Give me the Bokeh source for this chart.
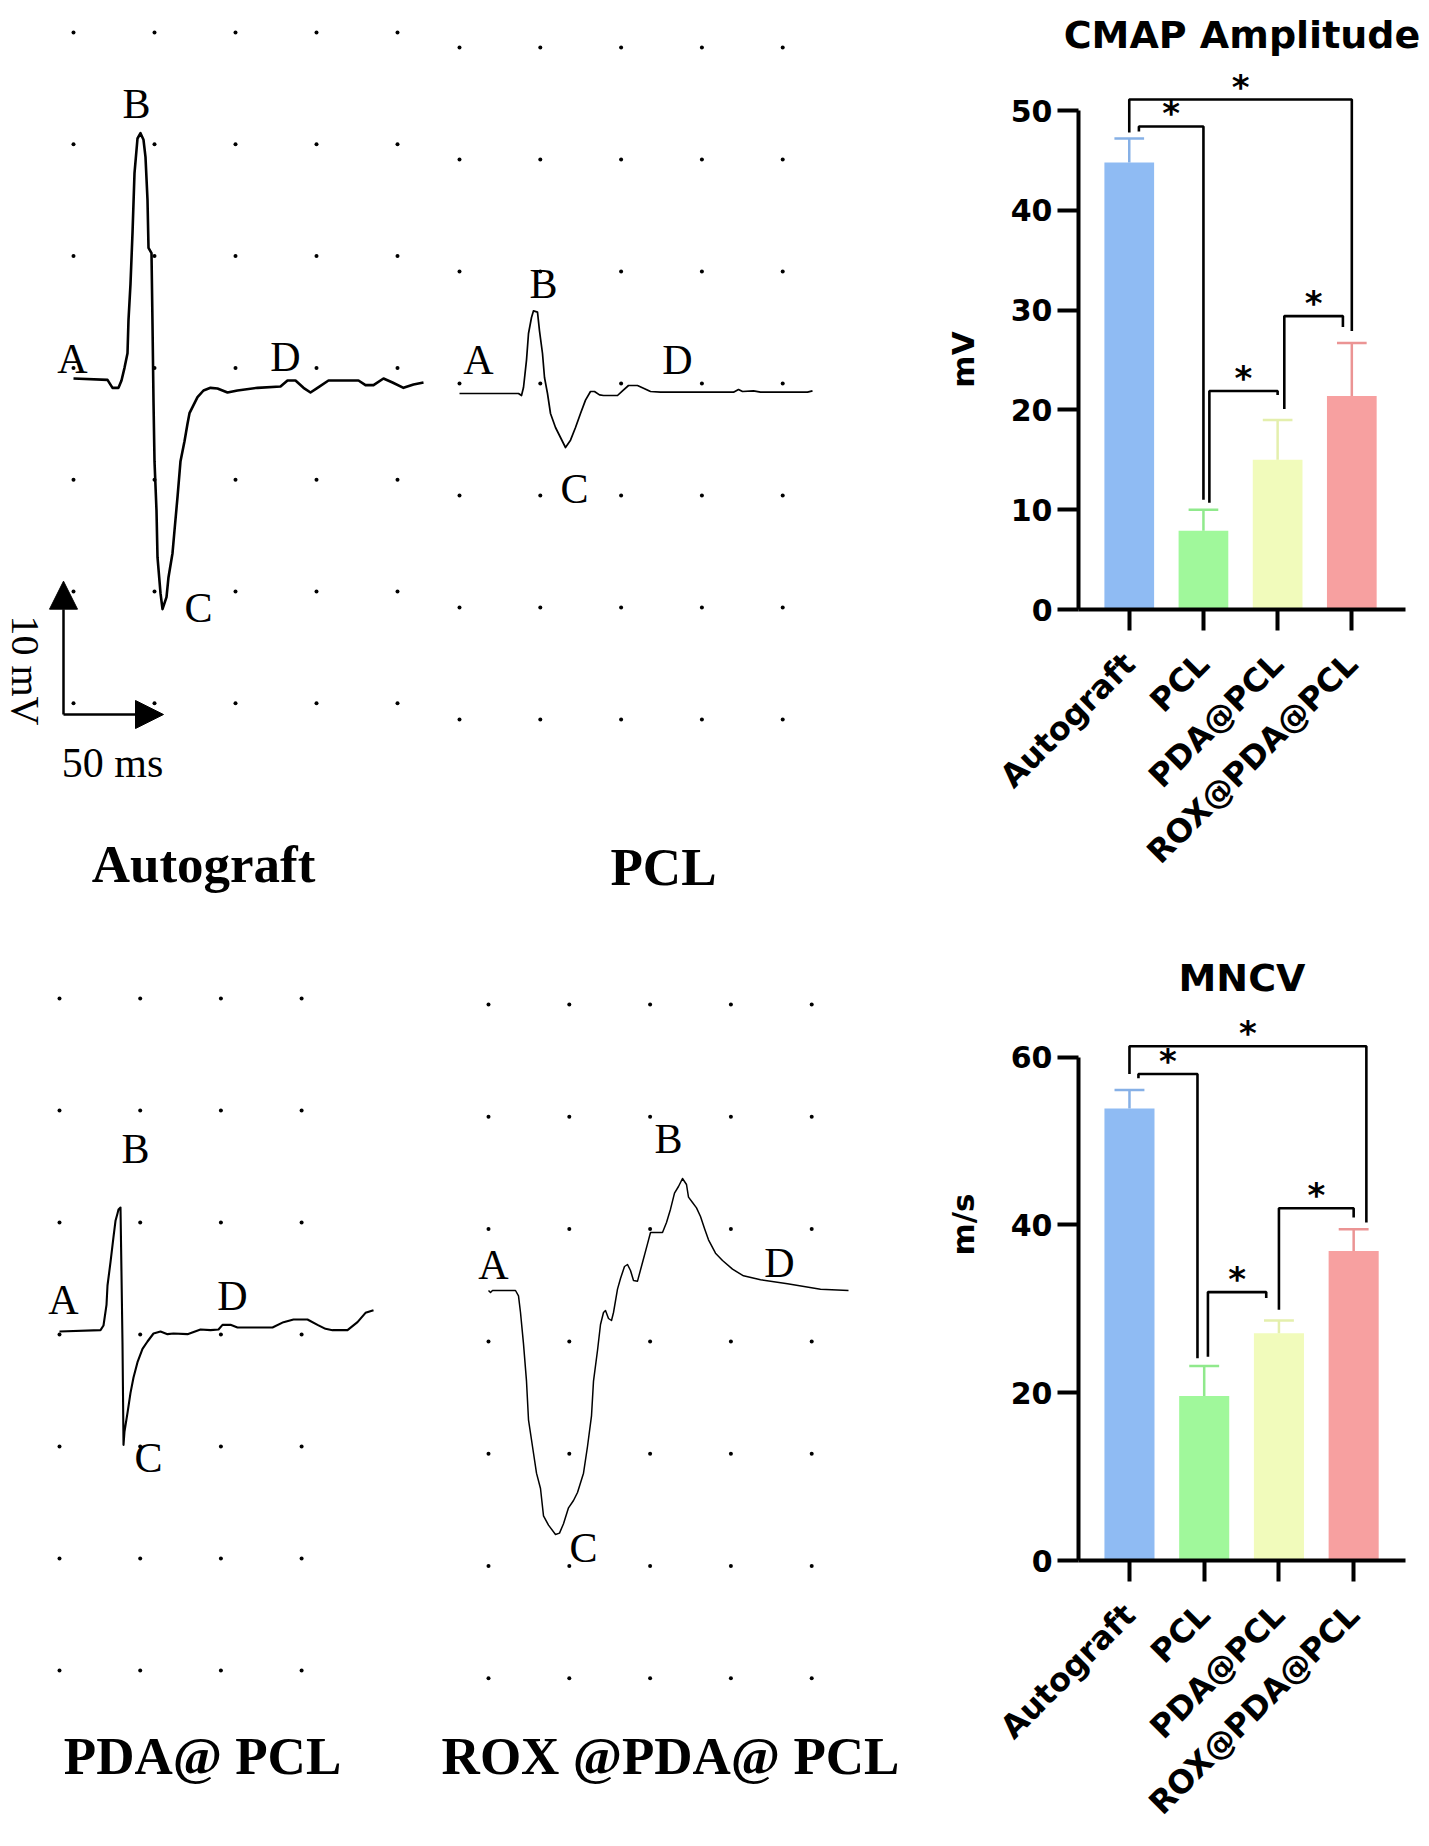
from math import pi
from bokeh.plotting import figure
from bokeh.models import Range1d, FixedTicker, Arrow, NormalHead
from bokeh.layouts import row, column
from bokeh.embed import file_html
from bokeh.resources import INLINE
from bokeh.core.properties import value

# ---------------- bar chart data ----------------
GROUPS = ["Autograft", "PCL", "PDA@PCL", "ROX@PDA@PCL"]
CMAP_MEAN = [44.8, 7.9, 15.0, 21.4]
CMAP_SD = [2.4, 2.1, 4.0, 5.3]
MNCV_MEAN = [53.9, 19.6, 27.1, 36.9]
MNCV_SD = [2.2, 3.6, 1.5, 2.6]
CMAP_TICKS = [0, 10, 20, 30, 40, 50]
MNCV_TICKS = [0, 20, 40, 60]

# significance brackets: group pair, bracket height, left-leg end, right-leg end
CMAP_PAIRS = [(0, 3), (0, 1), (1, 2), (2, 3)]
CMAP_BRACKET_TOP = [51.1, 48.4, 21.9, 29.4]
CMAP_LEFT_END = [47.8, 47.9, 10.7, 20.1]
CMAP_RIGHT_END = [27.9, 11.0, 21.5, 28.3]
MNCV_PAIRS = [(0, 3), (0, 1), (1, 2), (2, 3)]
MNCV_BRACKET_TOP = [61.3, 58.0, 32.0, 42.0]
MNCV_LEFT_END = [58.0, 57.5, 24.3, 29.9]
MNCV_RIGHT_END = [40.3, 24.1, 31.3, 40.9]
SIG_MARK = "*"

# ---------------- EMG traces (time in ms, amplitude in mV, from stimulus point A) ----------------
AUTO_T = [0, 17, 19.5, 22.5, 24, 25.5, 27, 27.5, 28.5, 29.5, 30.5, 32, 33.5, 35, 36, 37, 37.5, 39, 39.5, 40,
          40.5, 41.5, 42, 43.5, 44.5, 46.5, 47.5, 49.5, 50.5, 52, 53.5, 55.5, 57, 58, 60, 62, 65, 68.5, 72, 77,
          82, 92, 103.5, 107, 111, 115, 118.5, 122, 127.5, 142.5, 146, 150, 155, 159.5, 165, 170, 175]
AUTO_V = [0, -0.1, -0.7, -0.7, -0.15, 0.8, 1.9, 4.4, 7.1, 10.9, 15.4, 18.0, 18.4, 17.9, 16.6, 13.4, 9.8, 9.4, 4.1, -1.7,
          -6.2, -9.9, -13.4, -16.1, -17.3, -16.4, -14.9, -13.1, -11.4, -8.9, -6.2, -4.7, -3.4, -2.6, -2.0, -1.4, -0.9, -0.7, -0.75, -1.05,
          -0.9, -0.7, -0.6, -0.15, -0.15, -0.7, -1.05, -0.7, -0.15, -0.15, -0.5, -0.5, 0, -0.3, -0.7, -0.45, -0.3]

PCL_T = [0, 29.5, 31, 32, 33.5, 34.5, 36, 37, 39, 40, 41.5, 42.5, 44, 45.5, 48, 50.5, 53, 55.5, 58, 60.5,
         63, 65.5, 67.5, 70, 72, 79, 81.5, 84.5, 89, 92, 95.5, 100.5, 137, 139.5, 141.5, 147, 150.5, 174, 176.5]
PCL_V = [0, 0, -0.15, 0.45, 2.5, 4.5, 5.7, 6.2, 6.1, 4.7, 3.0, 1.2, 0, -1.5, -2.55, -3.3, -4.05, -3.5, -2.55, -1.5,
         -0.5, 0.15, 0.15, -0.1, -0.15, -0.15, 0.2, 0.6, 0.6, 0.4, 0.15, 0.1, 0.1, 0.3, 0.15, 0.2, 0.1, 0.1, 0.2]

PDA_T = [0, 20.5, 22, 23.5, 24, 25.5, 27, 28, 29, 29.5, 30.5, 31, 31.5, 32, 32.5, 34, 35.5, 37, 39, 41.5,
         44, 47, 50.5, 54, 57, 64, 70.5, 75.5, 79.5, 81.5, 85.5, 89, 106.5, 112, 117, 124, 129, 133, 136.5, 144,
         149, 153, 157]
PDA_V = [0, 0.1, 0.45, 2.0, 3.45, 5.2, 7.1, 8.3, 8.85, 9.15, 9.3, 4.3, -0.9, -8.5, -7.5, -6.1, -4.6, -3.45, -2.3, -1.3,
         -0.75, -0.15, 0, -0.2, -0.15, -0.2, 0.15, 0.1, 0.15, 0.5, 0.5, 0.3, 0.3, 0.7, 0.9, 0.9, 0.5, 0.2, 0.1, 0.1,
         0.7, 1.4, 1.6]

ROX_T = [0, 1, 2, 13.5, 15, 16, 17.5, 19, 20, 22, 24, 26, 27.5, 30, 33.5, 35.5, 37.5, 40, 42.5, 44.5,
         47.5, 49.5, 51.5, 52.5, 54.5, 56, 57.5, 58.5, 60, 61.5, 62.5, 64.5, 66, 68, 69.5, 71, 72.5, 74.5, 77, 79.5,
         81, 83.5, 87, 89, 91, 93, 95, 97, 99, 100, 102, 104, 106, 108, 110, 113.5, 117, 122, 127.5, 136,
         149.5, 166, 180]
ROX_V = [0, -0.15, 0, 0, -0.4, -1.65, -4.0, -6.8, -9.7, -11.7, -13.7, -14.85, -16.9, -17.6, -18.3, -18.2, -17.5, -16.3, -15.75, -15.15,
         -13.7, -11.7, -9.4, -6.8, -4.5, -2.55, -1.65, -1.5, -2.1, -2.25, -1.65, 0.1, 0.9, 1.8, 1.95, 1.5, 0.75, 0.7, 2.1, 3.5,
         4.35, 4.35, 4.35, 5.1, 6.1, 7.3, 7.8, 8.4, 7.95, 7.0, 6.6, 6.2, 5.55, 4.65, 3.8, 2.8, 2.25, 1.6, 1.1, 0.8,
         0.5, 0.1, 0]

POINT_NAMES = ["A", "B", "C", "D"]
SCALE_MS = 50
SCALE_MV = 10
SCALE_TEXT_T = "50 ms"
SCALE_TEXT_V = "10 mV"

# ---------------- layout / style ----------------
PX_PER_MS = 2.0
PX_PER_MV = 13.333
SERIF = value("Liberation Serif")
SANS = value("DejaVu Sans")
BAR_COLORS = ["#8fbbf3", "#a0f89b", "#f1fbbb", "#f7a0a0"]
ERR_COLORS = ["#86b0e6", "#90e98c", "#e4efad", "#eb9494"]

PAGE_H = 1838
LW = 944                    # traces figure: page x 0..944
LABW = 36                   # y-axis-title strip: page x 944..980
RW = 441                    # bar charts: page x 980..1421
RX0 = LW + LABW

# name, t, v, start point, line width, grid (x0, dx, ncol, y0, dy, nrow),
# label positions (t, v) for A, B, C, D, title centre
PANELS = [
    ("Autograft", AUTO_T, AUTO_V, (73, 378), 2.6, (73, 81.0, 5, 32, 111.8, 7),
     [(-0.5, 1.5), (31.5, 20.6), (62.5, -17.2), (106, 1.6)], (203, 863)),
    ("PCL", PCL_T, PCL_V, (459, 393), 1.7, (459, 80.8, 5, 47, 112.0, 7),
     [(9.5, 2.5), (42, 8.25), (57.5, -7.2), (109, 2.5)], (663, 866)),
    ("PDA@ PCL", PDA_T, PDA_V, (59, 1331), 2.1, (59, 80.7, 4, 998, 112.0, 7),
     [(2, 2.4), (38, 13.7), (44.5, -9.5), (86.5, 2.7)], (202, 1755)),
    ("ROX @PDA@ PCL", ROX_T, ROX_V, (488, 1290), 1.5, (488, 80.8, 5, 1004, 112.3, 7),
     [(2.5, 1.95), (90, 11.4), (47.5, -19.35), (145.5, 2.1)], (670, 1755)),
]


def blank(width, height, x0, y0):
    f = figure(width=width, height=height, x_range=Range1d(x0, x0 + width), y_range=Range1d(y0 + height, y0),
               output_backend="svg", toolbar_location=None,
               x_axis_location=None, y_axis_location=None, min_border=0)
    f.grid.visible = False
    f.outline_line_color = None
    return f


left = blank(LW, PAGE_H, 0, 0)

for name, t, v, (x0, y0), lw, grid, lab, (tx, ty) in PANELS:
    gx0, gdx, gnc, gy0, gdy, gnr = grid
    dx_, dy_ = [], []
    for r in range(gnr):
        for c in range(gnc):
            dx_.append(gx0 + c * gdx)
            dy_.append(gy0 + r * gdy)
    left.scatter(dx_, dy_, size=4, marker="circle", color="black", line_width=0)
    xs = [x0 + ti * PX_PER_MS for ti in t]
    ys = [y0 - vi * PX_PER_MV for vi in v]
    left.line(xs, ys, line_color="black", line_width=lw, line_join="round")
    left.text(x=[x0 + a * PX_PER_MS for a, b in lab], y=[y0 - b * PX_PER_MV for a, b in lab],
              text=POINT_NAMES, text_font=SERIF, text_font_size="42px",
              text_align="center", text_baseline="middle", text_color="black")
    left.text(x=[tx], y=[ty], text=[name], text_font=SERIF, text_font_size="53px",
              text_font_style="bold", text_align="center", text_baseline="middle", text_color="black")

# scale bar
SB = (63, 714)
left.add_layout(Arrow(end=NormalHead(size=28, fill_color="black", line_color="black"),
                      x_start=SB[0], y_start=SB[1], x_end=SB[0], y_end=SB[1] - SCALE_MV * PX_PER_MV,
                      line_width=2.5, line_color="black"))
left.add_layout(Arrow(end=NormalHead(size=28, fill_color="black", line_color="black"),
                      x_start=SB[0], y_start=SB[1], x_end=SB[0] + SCALE_MS * PX_PER_MS, y_end=SB[1],
                      line_width=2.5, line_color="black"))
left.text(x=[25], y=[670], text=[SCALE_TEXT_V], angle=-pi / 2, text_font=SERIF, text_font_size="40px",
          text_align="center", text_baseline="middle", text_color="black")
left.text(x=[112], y=[762], text=[SCALE_TEXT_T], text_font=SERIF, text_font_size="42px",
          text_align="center", text_baseline="middle", text_color="black")

# strip holding the two y-axis titles
labs = blank(LABW, PAGE_H, LW, 0)
labs.text(x=[962, 962], y=[359, 1224], text=["mV", "m/s"], angle=pi / 2, text_font=SANS,
          text_font_size="31px", text_font_style="bold", text_align="center", text_baseline="middle",
          text_color="black")


def bar_chart(title, mean, sd, ticks, pairs, btop, lend, rend, dxl, dxr,
              page_top, height, frame_left, frame_right, frame_top, frame_bottom, px_per_val, cat_px,
              first_cat_page, title_standoff, title_offset, star_gap):
    ymax = (frame_bottom - frame_top) / px_per_val
    xstart = 1 - (first_cat_page - frame_left) / cat_px
    xend = xstart + (frame_right - frame_left) / cat_px
    p = figure(width=RW, height=height, x_range=Range1d(xstart, xend), y_range=Range1d(0, ymax),
               output_backend="svg", toolbar_location=None, title=title,
               min_border_left=frame_left - RX0, min_border_right=RX0 + RW - frame_right,
               min_border_top=frame_top - page_top, min_border_bottom=page_top + height - frame_bottom)
    p.grid.visible = False
    p.outline_line_color = None
    p.title.align = "center"
    p.title.text_font = "DejaVu Sans"
    p.title.text_font_size = "38px"
    p.title.text_font_style = "bold"
    p.title.text_color = "black"
    p.title.standoff = title_standoff
    p.title.offset = title_offset

    xs = [1, 2, 3, 4]
    p.vbar(x=xs, top=mean, width=0.67, fill_color=BAR_COLORS, line_color=None)
    tops = [m + s for m, s in zip(mean, sd)]
    p.segment(x0=xs, y0=mean, x1=xs, y1=tops, line_color=ERR_COLORS, line_width=2.5)
    p.segment(x0=[x - 0.2 for x in xs], y0=tops, x1=[x + 0.2 for x in xs], y1=tops,
              line_color=ERR_COLORS, line_width=2.5)

    bx, by, sx, sy = [], [], [], []
    for k, (i, j) in enumerate(pairs):
        xl = xs[i] + dxl[k]
        xr = xs[j] + dxr[k]
        bx.append([xl, xl, xr, xr])
        by.append([lend[k], btop[k], btop[k], rend[k]])
        sx.append((xl + xr) / 2)
        sy.append(btop[k] + star_gap / px_per_val)
    p.multi_line(bx, by, line_color="black", line_width=2.6)
    p.text(x=sx, y=sy, text=[SIG_MARK] * len(sx), text_font=SANS, text_font_size="34px",
           text_font_style="bold", text_align="center", text_baseline="middle", text_color="black")

    for ax in (p.xaxis[0], p.yaxis[0]):
        ax.axis_line_width = 4
        ax.major_tick_line_width = 4
        ax.major_tick_in = 0
        ax.major_tick_out = 21
        ax.minor_tick_in = 0
        ax.minor_tick_out = 0
        ax.major_label_text_font = "DejaVu Sans"
        ax.major_label_text_font_style = "bold"
        ax.major_label_text_color = "black"
        ax.axis_line_color = "black"
        ax.major_tick_line_color = "black"
    p.yaxis.ticker = FixedTicker(ticks=ticks)
    p.yaxis.bounds = (0, ticks[-1])
    p.yaxis.major_label_text_font_size = "30px"
    p.yaxis.major_label_standoff = 5
    p.xaxis.ticker = FixedTicker(ticks=xs)
    p.xaxis.major_label_overrides = {x: g for x, g in zip(xs, GROUPS)}
    p.xaxis.major_label_orientation = pi / 4
    p.xaxis.major_label_text_font_size = "32px"
    p.xaxis.major_label_standoff = 28
    return p


SPLIT = 926
bar1 = bar_chart("CMAP Amplitude", CMAP_MEAN, CMAP_SD, CMAP_TICKS, CMAP_PAIRS,
                 CMAP_BRACKET_TOP, CMAP_LEFT_END, CMAP_RIGHT_END,
                 [0.0, 0.13, 0.08, 0.09], [0.0, 0.0, 0.0, -0.12],
                 page_top=0, height=SPLIT, frame_left=1070, frame_right=1405, frame_top=60, frame_bottom=609,
                 px_per_val=9.98, cat_px=76.0, first_cat_page=1122, title_standoff=7, title_offset=-6,
                 star_gap=13)
bar2 = bar_chart("MNCV", MNCV_MEAN, MNCV_SD, MNCV_TICKS, MNCV_PAIRS,
                 MNCV_BRACKET_TOP, MNCV_LEFT_END, MNCV_RIGHT_END,
                 [0.0, 0.12, 0.05, 0.0], [0.17, -0.09, -0.17, 0.0],
                 page_top=SPLIT, height=PAGE_H - SPLIT, frame_left=1078, frame_right=1418, frame_top=1000,
                 frame_bottom=1563, px_per_val=8.433, cat_px=77.7, first_cat_page=1131, title_standoff=2,
                 title_offset=-2, star_gap=13)

layout = row(left, labs, column(bar1, bar2, spacing=0), spacing=0)
open("out.html", "w").write(file_html(layout, INLINE))
